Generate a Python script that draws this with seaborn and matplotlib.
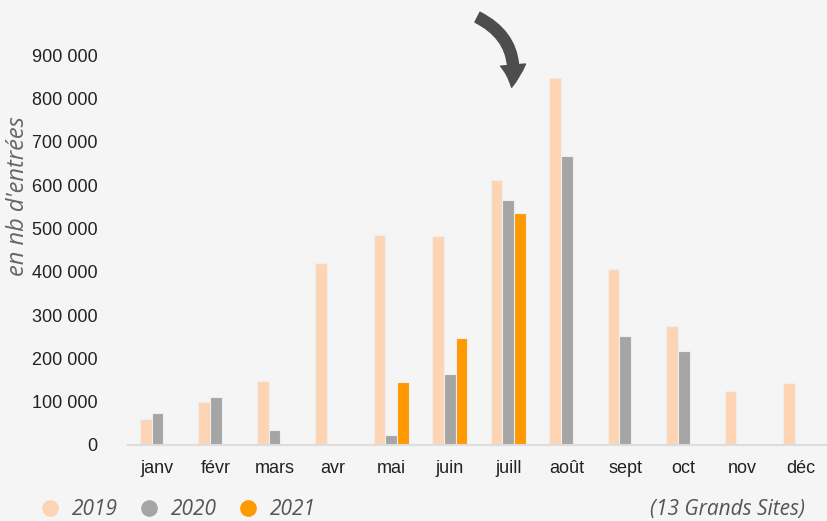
import numpy as np
import pandas as pd
import matplotlib.pyplot as plt
import seaborn as sns
from matplotlib.patches import FancyArrowPatch
from matplotlib.lines import Line2D

# monthly entries, 13 Grands Sites
months = ["janv", "févr", "mars", "avr", "mai", "juin", "juill", "août", "sept", "oct", "nov", "déc"]
years = ["2019", "2020", "2021"]
v2019 = [60000, 99000, 148000, 420000, 485000, 482000, 611000, 847000, 406000, 275000, 125000, 143000]
v2020 = [74000, 111000, 35000, 0, 23000, 164000, 565000, 667000, 252000, 217000, 0, 0]
v2021 = [0, 0, 0, 2500, 145000, 247000, 535000, 0, 0, 0, 0, 0]
colors = ["#fdd5b4", "#a5a5a5", "#ff9900"]

df = pd.DataFrame({
    "mois": months * 3,
    "annee": [y for y in years for _ in months],
    "entrees": v2019 + v2020 + v2021,
})

sns.set_theme(style="white")
bg = "#f5f5f5"
fig = plt.figure(figsize=(8.27, 5.21), dpi=100, facecolor=bg)
ax = fig.add_axes([0.155, 0.146, 0.845, 0.748])
ax.set_facecolor(bg)

sns.barplot(data=df, x="mois", y="entrees", hue="annee", palette=colors, saturation=1,
            width=0.6, ax=ax, legend=False, edgecolor="#eeeeee", linewidth=0.8)

ax.set_ylim(0, 900000)
ax.set_xlim(-0.5, 11.45)
ax.set_yticks(np.arange(0, 900001, 100000))
ax.set_yticklabels(["0"] + [f"{v // 1000} 000" for v in range(100000, 900001, 100000)],
                   fontsize=13, family="Liberation Sans", color="#222222")
ax.set_xticklabels(months, fontsize=13, family="Liberation Sans", color="#222222")
ax.tick_params(axis="y", length=0, pad=22)
ax.tick_params(axis="x", length=0, pad=11)
ax.set_xlabel("")
ax.set_ylabel("")
for s in ["top", "right", "left"]:
    ax.spines[s].set_visible(False)
ax.spines["bottom"].set_color("#dddddd")
ax.spines["bottom"].set_linewidth(1.5)

fig.text(0.022, 0.624, "en nb d'entrées", rotation=90, ha="center", va="center",
         fontsize=17, style="italic", family="Open Sans", color="#666666")

# legend at the bottom
handles = [Line2D([0], [0], marker="o", linestyle="", markersize=11,
                  markerfacecolor=c, markeredgecolor=c) for c in colors]
fig.legend(handles, years, loc="lower left", bbox_to_anchor=(0.025, -0.035), ncol=3,
           frameon=False, handletextpad=0.55, columnspacing=1.0, handlelength=1.0,
           prop={"family": "Open Sans", "style": "italic", "size": 15}, labelcolor="#555555")
fig.text(0.973, 0.022, "(13 Grands Sites)", ha="right", va="center",
         fontsize=15, style="italic", family="Open Sans", color="#555555")

# curved arrow pointing at juillet
arrow = FancyArrowPatch((475 / 827, 1 - 16 / 521), (511 / 827, 1 - 90 / 521),
                        transform=fig.transFigure, connectionstyle="arc3,rad=-0.4",
                        arrowstyle="simple,head_width=18,head_length=16,tail_width=8",
                        color="#4d4d4d", mutation_scale=1)
fig.patches.append(arrow)

fig.savefig("out.png", dpi=100, facecolor=bg)
